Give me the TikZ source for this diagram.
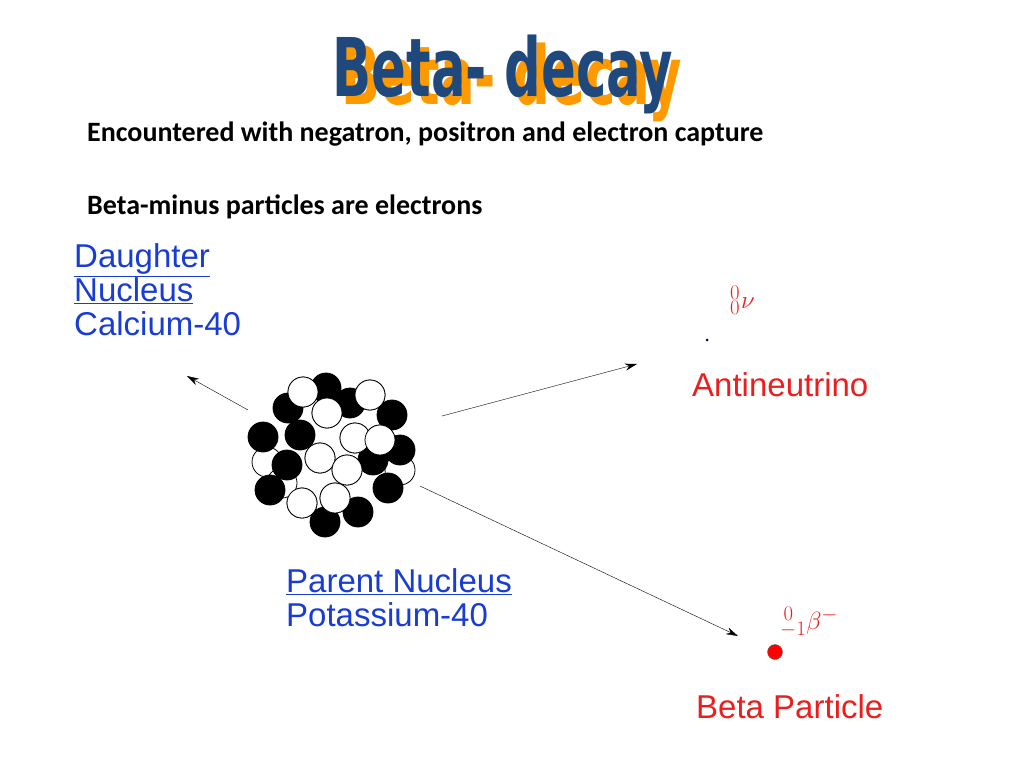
\documentclass[tikz,border=0pt]{standalone}
\usepackage{fontspec}
\setmainfont{Carlito}
\newfontfamily\titlefont{DejaVu Sans Condensed}
\newfontfamily\labelfont{Liberation Sans}
\usetikzlibrary{arrows.meta}
\definecolor{titleblue}{RGB}{31,73,125}
\definecolor{shadoworange}{RGB}{255,153,0}
\definecolor{labelblue}{RGB}{25,60,210}
\definecolor{labelred}{RGB}{235,30,30}
\newcommand{\betatitle}{\scalebox{0.95}[1.35]{\titlefont\bfseries\fontsize{60}{66}\selectfont Beta- decay}}
\begin{document}
\begin{tikzpicture}[x=1pt,y=-1pt,
    every node/.style = {inner sep=0pt},
    blacknuc/.style = {draw=black, fill=black, line width=0.8pt},
    whitenuc/.style = {draw=black, fill=white, line width=0.8pt},
    bluelabel/.style = {font=\labelfont\fontsize{33}{36}\selectfont, text=labelblue, anchor=west, align=left},
    redlabel/.style = {font=\labelfont\fontsize{33}{36}\selectfont, text=labelred, anchor=west},
    symlabel/.style = {font=\labelfont\bfseries\fontsize{30}{32}\selectfont, text=labelred, anchor=west},
    track/.style = {draw=black, thin, -{Stealth[length=12pt,width=7pt]}}%
  ]
  \useasboundingbox (0,0) rectangle (1024,768);
  % title with shadow
  \node[text=shadoworange] (shadow) at (512,82) {\betatitle};
  \node[text=titleblue] (title) at (503,74) {\betatitle};
  \node[font=\bfseries\fontsize{28}{32}\selectfont, anchor=west] (line1) at (87,134) {Encountered with negatron, positron and electron capture};
  \node[font=\bfseries\fontsize{28}{32}\selectfont, anchor=west] (line2) at (87,207) {Beta-minus particles are electrons};
  % nucleus
  \fill[white] (330,455) circle (75);
  \foreach \x/\y in {303/392,370/395,327/413,355/438,380/440,320/458,267/462,347/470,400/470,302/503,335/498,282/483}
    \path[whitenuc] (\x,\y) circle (15);
  \foreach \x/\y in {326/388,288/408,350/403,392/415,263/437,300/435,287/465,373/460,400/450,270/490,388/488,325/522,358/512}
    \path[blacknuc] (\x,\y) circle (15);
  \foreach \x/\y in {303/392,370/395,327/413,355/438,380/440,320/458,347/470,302/503,335/498}
    \path[whitenuc] (\x,\y) circle (15);
  % labels
  \node[bluelabel] (daughter) at (74,290) {\underline{Daughter}\\[-2pt]\underline{Nucleus}\\[-2pt]Calcium-40};
  \node[bluelabel] (parent) at (286,598) {\underline{Parent Nucleus}\\[-2pt]Potassium-40};
  \node[symlabel] (nusym) at (730,300) {$^{0}_{0}$\hspace{1pt}{\fontsize{34}{34}\selectfont$\nu$}};
  \node[redlabel] (antinu) at (692,385) {Antineutrino};
  \node[symlabel] (betasym) at (780,622) {$^{\,0}_{-1}$$\beta^{-}$};
  \node[redlabel] (betalabel) at (696,707) {Beta Particle};
  % particles
  \node[circle, fill=black!70!blue, minimum size=3pt] (neutrino) at (707,340) {};
  \node[circle, draw=black!60, fill=red, minimum size=15pt] (beta) at (775,652) {};
  % tracks
  \coordinate (dstart) at (248,410);
  \coordinate (dend) at (187,376);
  \coordinate (nstart) at (442,416);
  \coordinate (nend) at (637,364);
  \coordinate (bstart) at (420,486);
  \coordinate (bend) at (738,636);
  \draw[track] (dstart) -- (dend);
  \draw[track] (nstart) -- (nend);
  \draw[track] (bstart) -- (bend);
\end{tikzpicture}
\end{document}
